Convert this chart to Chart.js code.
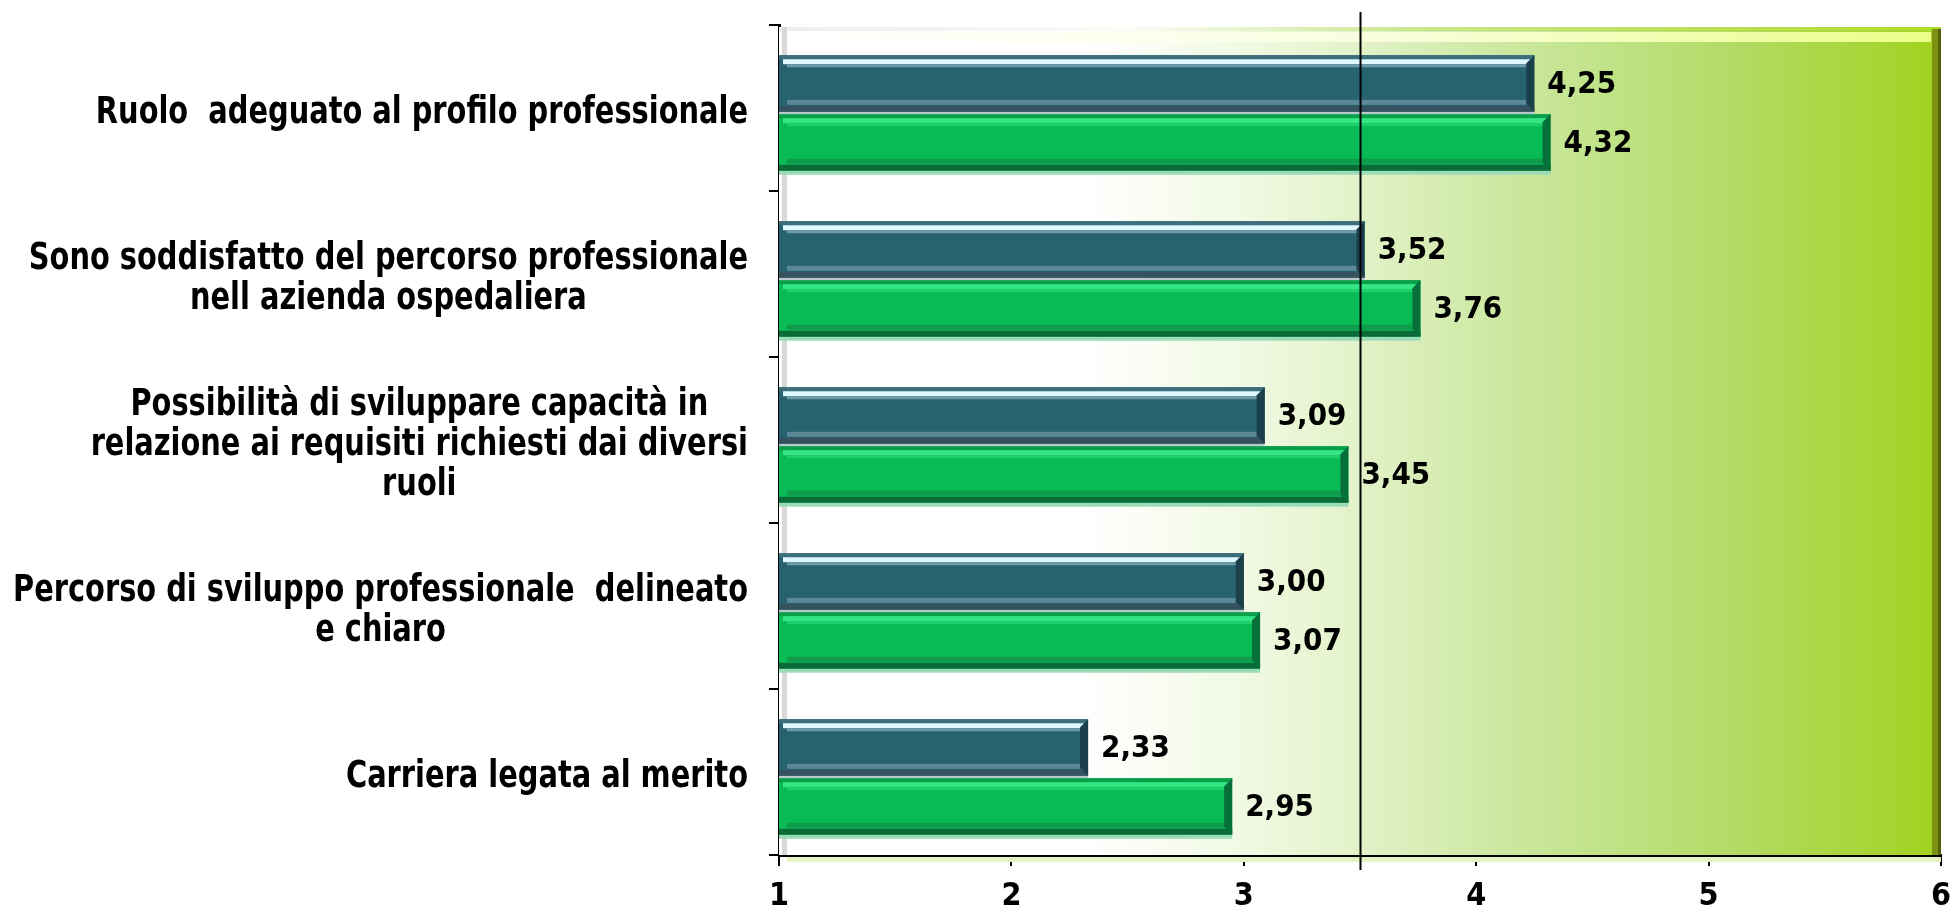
<!DOCTYPE html>
<html>
<head>
<meta charset="utf-8">
<script src="https://cdn.jsdelivr.net/npm/chart.js@4.4.0/dist/chart.umd.min.js"></script>
<style>
  html, body { margin: 0; padding: 0; background: #fff; }
  #wrap { width: 1955px; height: 912px; }
</style>
</head>
<body>
<div id="wrap"><canvas id="chart" width="1955" height="912"></canvas></div>
<script>
// chart data
const categories = [
  'Ruolo  adeguato al profilo professionale',
  ['Sono soddisfatto del percorso professionale', 'nell azienda ospedaliera'],
  ['Possibilità di sviluppare capacità in', 'relazione ai requisiti richiesti dai diversi', 'ruoli'],
  ['Percorso di sviluppo professionale  delineato', 'e chiaro'],
  'Carriera legata al merito'
];
const seriesA = [4.25, 3.52, 3.09, 3.00, 2.33];
const seriesB = [4.32, 3.76, 3.45, 3.07, 2.95];
const xTicks = [1, 2, 3, 4, 5, 6];
const refValue = 3.5;

const FAMILY = "'DejaVu Sans Condensed', 'DejaVu Sans', sans-serif";

// look of the 3D bars, one per dataset
const bevel = [
  { border: '#3d6e7c', light: '#dff7ff', mid: '#6f9aa8', low: '#5b8796', dark: '#34535f', side: '#1c3f4c', shadow: '#b9c9ce' },
  { border: '#0aa04a', light: '#36e686', mid: '#1fd06a', low: '#0f9a4c', dark: '#0a6a38', side: '#06703a', shadow: '#9adcb8' }
];

// the 3D bars sit a little below the category centre
const barDrop = 5;
const dropPlugin = {
  id: 'drop',
  afterDatasetsUpdate(chart) {
    chart.data.datasets.forEach((ds, i) => {
      chart.getDatasetMeta(i).data.forEach(el => { el.y += barDrop; });
    });
  }
};

// plot wall with the white -> yellow green gradient
const wallPlugin = {
  id: 'wall',
  beforeDatasetsDraw(chart) {
    const { ctx, chartArea: a } = chart;
    ctx.save();
    const g = ctx.createLinearGradient(a.left, 0, a.right, 0);
    g.addColorStop(0, '#ffffff');
    g.addColorStop(0.26, '#ffffff');
    g.addColorStop(0.4, '#f1f9e3');
    g.addColorStop(0.5, '#e2f2c8');
    g.addColorStop(0.62, '#cde8a2');
    g.addColorStop(0.72, '#bfe285');
    g.addColorStop(0.83, '#b2da62');
    g.addColorStop(1, '#a2d21e');
    ctx.fillStyle = g;
    ctx.fillRect(a.left, a.top + 2, a.width, a.height - 2);

    // top face of the wall
    const t = ctx.createLinearGradient(a.left, 0, a.right, 0);
    t.addColorStop(0, 'rgba(235,235,235,0.9)');
    t.addColorStop(0.3, 'rgba(250,252,245,0.9)');
    t.addColorStop(0.55, 'rgba(200,230,140,1)');
    t.addColorStop(1, 'rgba(170,220,40,1)');
    ctx.fillStyle = t;
    ctx.fillRect(a.left, a.top + 2, a.width, 4);
    const h = ctx.createLinearGradient(a.left, 0, a.right, 0);
    h.addColorStop(0, 'rgba(255,255,255,0.95)');
    h.addColorStop(0.5, 'rgba(250,255,225,0.95)');
    h.addColorStop(1, 'rgba(240,255,140,0.95)');
    ctx.fillStyle = h;
    ctx.fillRect(a.left + 4, a.top + 7, a.width - 14, 10);

    // left side and right edge
    ctx.fillStyle = '#d8d8d8';
    ctx.fillRect(a.left + 3, a.top + 2, 5, a.height - 2);
    ctx.fillStyle = '#7d9212';
    ctx.fillRect(a.right - 9, a.top + 4, 6, a.height - 4);
    ctx.fillStyle = '#56600a';
    ctx.fillRect(a.right - 3, a.top + 4, 3, a.height - 4);
    // floor below
    ctx.fillStyle = '#e4f3c0';
    ctx.fillRect(a.left + 8, a.bottom + 2, a.width - 8, 5);
    ctx.restore();
  }
};

// bevel, shadow and value labels for every bar
const barPlugin = {
  id: 'barLook',
  afterDatasetsDraw(chart) {
    const { ctx, chartArea } = chart;
    ctx.save();
    chart.data.datasets.forEach((ds, i) => {
      const meta = chart.getDatasetMeta(i);
      const st = bevel[i];
      meta.data.forEach((bar, j) => {
        const left = Math.max(chartArea.left, Math.min(bar.base, bar.x));
        const right = Math.max(bar.base, bar.x);
        const h = bar.height;
        const top = bar.y - h / 2;
        const w = right - left;
        // shadow
        ctx.fillStyle = st.shadow;
        ctx.fillRect(left, top + h, w, 4);
        // top bands
        ctx.fillStyle = st.border;
        ctx.fillRect(left, top, w, 4);
        ctx.fillStyle = st.light;
        ctx.fillRect(left + 4, top + 4, w - 8, 5);
        ctx.fillStyle = st.mid;
        ctx.fillRect(left + 8, top + 9, w - 16, 3);
        // bottom bands
        ctx.fillStyle = st.low;
        ctx.fillRect(left + 8, top + h - 12, w - 16, 5);
        ctx.fillStyle = st.dark;
        ctx.fillRect(left, top + h - 6, w, 6);
        // right end
        ctx.fillStyle = st.side;
        ctx.beginPath();
        ctx.moveTo(right, top);
        ctx.lineTo(right, top + h);
        ctx.lineTo(right - 8, top + h - 8);
        ctx.lineTo(right - 8, top + 8);
        ctx.closePath();
        ctx.fill();
        // value
        const v = ds.data[j];
        ctx.fillStyle = '#000';
        ctx.font = 'bold 31px ' + FAMILY;
        ctx.textAlign = 'left';
        ctx.textBaseline = 'middle';
        ctx.fillText(v.toFixed(2).replace('.', ','), right + 13, bar.y + 1);
      });
    });
    ctx.restore();
  }
};

// category labels: block right aligned, lines centred inside the block,
// tall bold type squeezed sideways like the original
const labelWidest = 735;
const catLabelPlugin = {
  id: 'catLabels',
  afterDraw(chart) {
    const { ctx } = chart;
    const ys = chart.scales.y;
    const rightEdge = ys.right - 31;
    const lineH = 40;
    ctx.save();
    ctx.font = 'bold 37px ' + FAMILY;
    ctx.fillStyle = '#000';
    ctx.textAlign = 'center';
    ctx.textBaseline = 'alphabetic';
    const all = categories.flat();
    const maxW = Math.max(...all.map(l => ctx.measureText(l).width));
    const sx = labelWidest / maxW;
    categories.forEach((lab, i) => {
      const lines = Array.isArray(lab) ? lab : [lab];
      const w = Math.max(...lines.map(l => ctx.measureText(l).width)) * sx;
      const cx = rightEdge - w / 2;
      const cy = ys.getPixelForTick(i) + 15;
      lines.forEach((l, k) => {
        ctx.save();
        ctx.translate(cx, cy + (k - (lines.length - 1) / 2) * lineH);
        ctx.scale(sx, 1);
        ctx.fillText(l, 0, 0);
        ctx.restore();
      });
    });
    ctx.restore();
  }
};

// vertical reference line at 3,5
const refLinePlugin = {
  id: 'refLine',
  afterDraw(chart) {
    const { ctx, chartArea: a } = chart;
    const x = Math.round(chart.scales.x.getPixelForValue(refValue)) + 0.5;
    ctx.save();
    ctx.strokeStyle = '#000';
    ctx.lineWidth = 2;
    ctx.beginPath();
    ctx.moveTo(x, a.top - 13);
    ctx.lineTo(x, a.bottom + 15);
    ctx.stroke();
    ctx.restore();
  }
};

new Chart(document.getElementById('chart'), {
  type: 'bar',
  data: {
    labels: categories,
    datasets: [
      { label: 'A', data: seriesA, backgroundColor: '#266270', borderWidth: 0 },
      { label: 'B', data: seriesB, backgroundColor: '#08bb55', borderWidth: 0 }
    ]
  },
  options: {
    indexAxis: 'y',
    responsive: false,
    animation: false,
    devicePixelRatio: 1,
    categoryPercentage: 0.71,
    barPercentage: 0.96,
    layout: { padding: { top: 25, right: 0, left: 0, bottom: 0 } },
    plugins: {
      legend: { display: false },
      tooltip: { enabled: false }
    },
    scales: {
      x: {
        min: 1,
        max: 6,
        afterBuildTicks: s => { s.ticks = xTicks.map(v => ({ value: v })); },
        afterFit: s => { s.height = 57; s.paddingRight = 14; },
        ticks: { font: { family: FAMILY, size: 32, weight: 'bold' }, color: '#000', padding: 11 },
        grid: { drawOnChartArea: false, drawTicks: true, tickLength: 11, color: '#000', lineWidth: 2 },
        border: { color: '#000', width: 3 }
      },
      y: {
        afterFit: s => { s.width = 779; },
        ticks: { display: false },
        grid: { drawOnChartArea: false, offset: true, tickLength: 10, color: '#000', lineWidth: 2 },
        border: { color: '#000', width: 3 }
      }
    }
  },
  plugins: [dropPlugin, wallPlugin, barPlugin, catLabelPlugin, refLinePlugin]
});
</script>
</body>
</html>
